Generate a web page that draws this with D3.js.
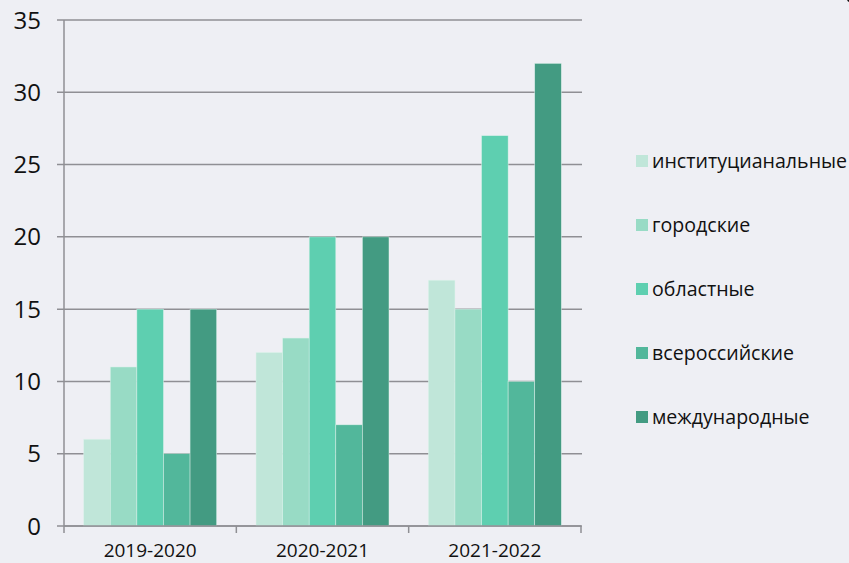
<!DOCTYPE html>
<html><head><meta charset="utf-8">
<script src="https://cdn.jsdelivr.net/npm/d3@7"></script>
<style>
body{margin:0;background:#eeeff4;}
svg{display:block;font-family:"Open Sans","DejaVu Sans",sans-serif;}
</style></head><body>
<svg id="c" width="849" height="563"></svg>
<script>
const categories = ["2019-2020","2020-2021","2021-2022"];
const seriesNames = ["институцианальные","городские","областные","всероссийские","международные"];
const seriesColors = ["#c0e6d9","#98dbc5","#5ecfb0","#52b79b","#439b82"];
const values = [
  [6, 12, 17],
  [11, 13, 15],
  [15, 20, 27],
  [5, 7, 10],
  [15, 20, 32]
];
const yTicks = [0,5,10,15,20,25,30,35];

(function(){
const svg = d3.select("#c");
svg.append("rect").attr("width",849).attr("height",563).attr("fill","#eeeff4");
const mL = 64, mR = 581, mT = 20, mB = 526;
const x = d3.scaleBand().domain(categories).range([mL,mR]).paddingInner(0).paddingOuter(0);
const x1 = d3.scaleBand().domain(seriesNames).range([0,x.bandwidth()]).paddingInner(0).paddingOuter(0.74);
const y = d3.scaleLinear().domain([0,35]).range([mB,mT]);

svg.append("g").selectAll("line").data(yTicks).join("line")
  .attr("x1",mL-7).attr("x2",mR+1)
  .attr("y1",d=>y(d)).attr("y2",d=>y(d))
  .attr("stroke","#8f8f94").attr("stroke-width",1.5);

const data = [];
categories.forEach((c,ci)=>seriesNames.forEach((s,si)=>data.push({c,s,si,v:values[si][ci]})));
svg.append("g").selectAll("rect").data(data).join("rect")
  .attr("x",d=>x(d.c)+x1(d.s))
  .attr("width",x1.bandwidth())
  .attr("y",d=>y(d.v))
  .attr("height",d=>y(0)-y(d.v))
  .attr("fill",d=>seriesColors[d.si])
  .attr("stroke","#dff2ec").attr("stroke-width",0.6).attr("stroke-opacity",0.8);

svg.append("line").attr("x1",mL).attr("x2",mL).attr("y1",mT).attr("y2",mB)
  .attr("stroke","#8f8f94").attr("stroke-width",1.5);
svg.append("line").attr("x1",mL).attr("x2",mR).attr("y1",mB).attr("y2",mB)
  .attr("stroke","#8f8f94").attr("stroke-width",1.5);
const bounds = categories.map(c=>x(c)).concat([mR]);
svg.append("g").selectAll("line").data(bounds).join("line")
  .attr("x1",d=>d).attr("x2",d=>d).attr("y1",mB).attr("y2",mB+7)
  .attr("stroke","#8f8f94").attr("stroke-width",1.5);

svg.append("g").selectAll("text").data(yTicks).join("text")
  .attr("x",41).attr("y",d=>y(d)+8.5)
  .attr("text-anchor","end").attr("font-size",24).attr("fill","#111")
  .text(d=>d);
svg.append("g").selectAll("text").data(categories).join("text")
  .attr("x",d=>x(d)+x.bandwidth()/2).attr("y",557)
  .attr("text-anchor","middle").attr("font-size",19).attr("fill","#111")
  .text(d=>d);

const lg = svg.append("g").selectAll("g").data(seriesNames).join("g")
  .attr("transform",(d,i)=>`translate(636,${161+i*64})`);
lg.append("rect").attr("x",0).attr("y",-6).attr("width",12).attr("height",12)
  .attr("fill",(d,i)=>seriesColors[i]);
lg.append("text").attr("x",16).attr("y",7).attr("font-size",19.6).attr("font-weight",500).attr("fill","#111").text(d=>d);

svg.append("circle").attr("cx",850).attr("cy",-1).attr("r",3).attr("fill","#111");
})();
</script>
</body></html>
